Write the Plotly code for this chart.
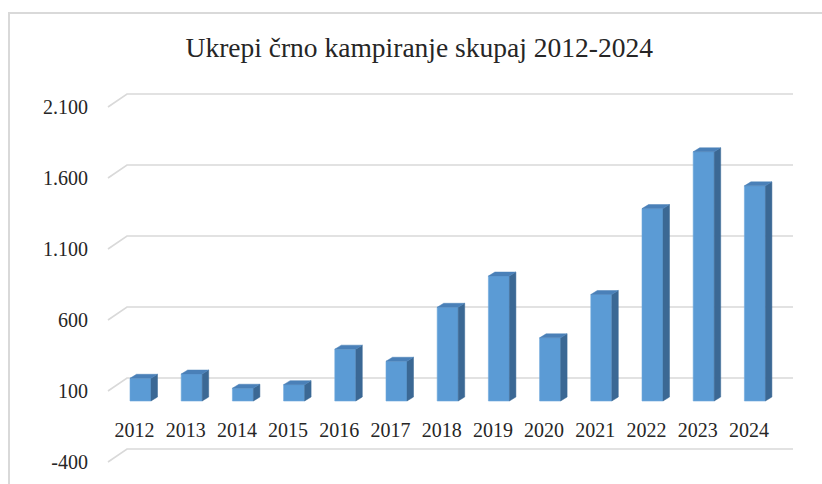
import plotly.graph_objects as go

# ---- data ----
years = ["2012", "2013", "2014", "2015", "2016", "2017", "2018",
         "2019", "2020", "2021", "2022", "2023", "2024"]
values = [160, 190, 90, 115, 365, 280, 660, 880, 445, 750, 1355, 1755, 1515]
tick_vals = [-400, 100, 600, 1100, 1600, 2100]
tick_text = ["-400", "100", "600", "1.100", "1.600", "2.100"]
title_text = "Ukrepi črno kampiranje skupaj 2012-2024"

# ---- geometry / style constants ----
W, H = 822, 484
ML, MR, MT, MB = 100, 22, 80, 4
PW, PH = W - ML - MR, H - MT - MB
PX_CAT = 51.2          # pixels per category
PX_UNIT = 0.142        # pixels per value unit
FIRST_CENTER_PX = 140.5
TOP_TICK_PX = 107.0    # front position of top gridline

xmin = -(FIRST_CENTER_PX - ML) / PX_CAT
xmax = xmin + PW / PX_CAT
ymax = tick_vals[-1] + (TOP_TICK_PX - MT) / PX_UNIT
ymin = ymax - PH / PX_UNIT

# depth of the floor/wall (gridlines) and of the bars
GRID_DX = 19 / PX_CAT
GRID_DY = 13 / PX_UNIT
GRID_FRONT_X = (108 - FIRST_CENTER_PX) / PX_CAT
GRID_RIGHT_X = (793 - FIRST_CENTER_PX) / PX_CAT
BAR_SHIFT = 4.2 / PX_UNIT          # bar front base sits a bit behind the front edge
BAR_W = 21 / PX_CAT
BAR_DX = 6.5 / PX_CAT
BAR_DY = 4 / PX_UNIT

FRONT = "#5B9BD5"
SIDE = "#3B6894"
TOP = "#4A80B8"
GRID = "#D9D9D9"
TXT = "#262626"
FONT = "Liberation Serif"

xs = list(range(len(years)))

fig = go.Figure()

# front faces
fig.add_trace(go.Bar(
    x=xs, y=values, width=BAR_W, yaxis="y2",
    marker=dict(color=FRONT, line=dict(color="#6FA8DC", width=0.6)),
    hoverinfo="skip", showlegend=False,
))

# side faces
sx, sy = [], []
for x, v in zip(xs, values):
    r = x + BAR_W / 2
    sx += [r, r + BAR_DX, r + BAR_DX, r, r, None]
    sy += [0, BAR_DY, v + BAR_DY, v, 0, None]
fig.add_trace(go.Scatter(
    x=sx, y=sy, yaxis="y2", mode="lines", fill="toself",
    fillcolor=SIDE, line=dict(color=SIDE, width=0.5),
    hoverinfo="skip", showlegend=False,
))

# top faces
tx, ty = [], []
for x, v in zip(xs, values):
    l, r = x - BAR_W / 2, x + BAR_W / 2
    tx += [l, r, r + BAR_DX, l + BAR_DX, l, None]
    ty += [v, v, v + BAR_DY, v + BAR_DY, v, None]
fig.add_trace(go.Scatter(
    x=tx, y=ty, yaxis="y2", mode="lines", fill="toself",
    fillcolor=TOP, line=dict(color=TOP, width=0.5),
    hoverinfo="skip", showlegend=False,
))

# 3D gridlines (floor diagonal + back wall line)
shapes = []
for v in tick_vals:
    shapes.append(dict(
        type="path", xref="x", yref="y", layer="below",
        path=f"M {GRID_FRONT_X},{v} L {GRID_FRONT_X + GRID_DX},{v + GRID_DY} "
             f"L {GRID_RIGHT_X},{v + GRID_DY}",
        line=dict(color=GRID, width=1.6),
    ))
# chart-area border
shapes.append(dict(
    type="rect", xref="paper", yref="paper", layer="below",
    x0=(9 - ML) / PW, x1=1.2, y0=-0.2, y1=(H - MB - 13) / PH,
    line=dict(color=GRID, width=2), fillcolor="rgba(0,0,0,0)",
))

fig.update_layout(
    width=W, height=H,
    margin=dict(l=ML, r=MR, t=MT, b=MB),
    paper_bgcolor="white", plot_bgcolor="white",
    font=dict(family=FONT, color=TXT, size=20),
    title=dict(text=title_text, x=0.510, xanchor="center",
               y=1 - 47 / H, yanchor="middle", yref="container",
               font=dict(family=FONT, size=27.5, color="#262626")),
    xaxis=dict(range=[xmin, xmax], tickvals=xs, ticktext=years,
               showgrid=False, zeroline=False, showline=False, ticks="",
               anchor="free", position=(H - MB - 416) / PH,
               ticklabelshift=-6,
               tickfont=dict(size=20, family=FONT, color=TXT)),
    yaxis=dict(range=[ymin, ymax], tickvals=tick_vals, ticktext=tick_text,
               showgrid=False, zeroline=False, showline=False, ticks="",
               ticklabelstandoff=11,
               tickfont=dict(size=20, family=FONT, color=TXT)),
    yaxis2=dict(range=[ymin - BAR_SHIFT, ymax - BAR_SHIFT], overlaying="y",
                visible=False, showgrid=False, zeroline=False),
    shapes=shapes,
    bargap=0,
)

fig.write_html(
    "out.html",
    config={"displayModeBar": False, "staticPlot": True},
    post_script="document.body.style.margin='0';document.body.style.overflow='hidden';",
)
